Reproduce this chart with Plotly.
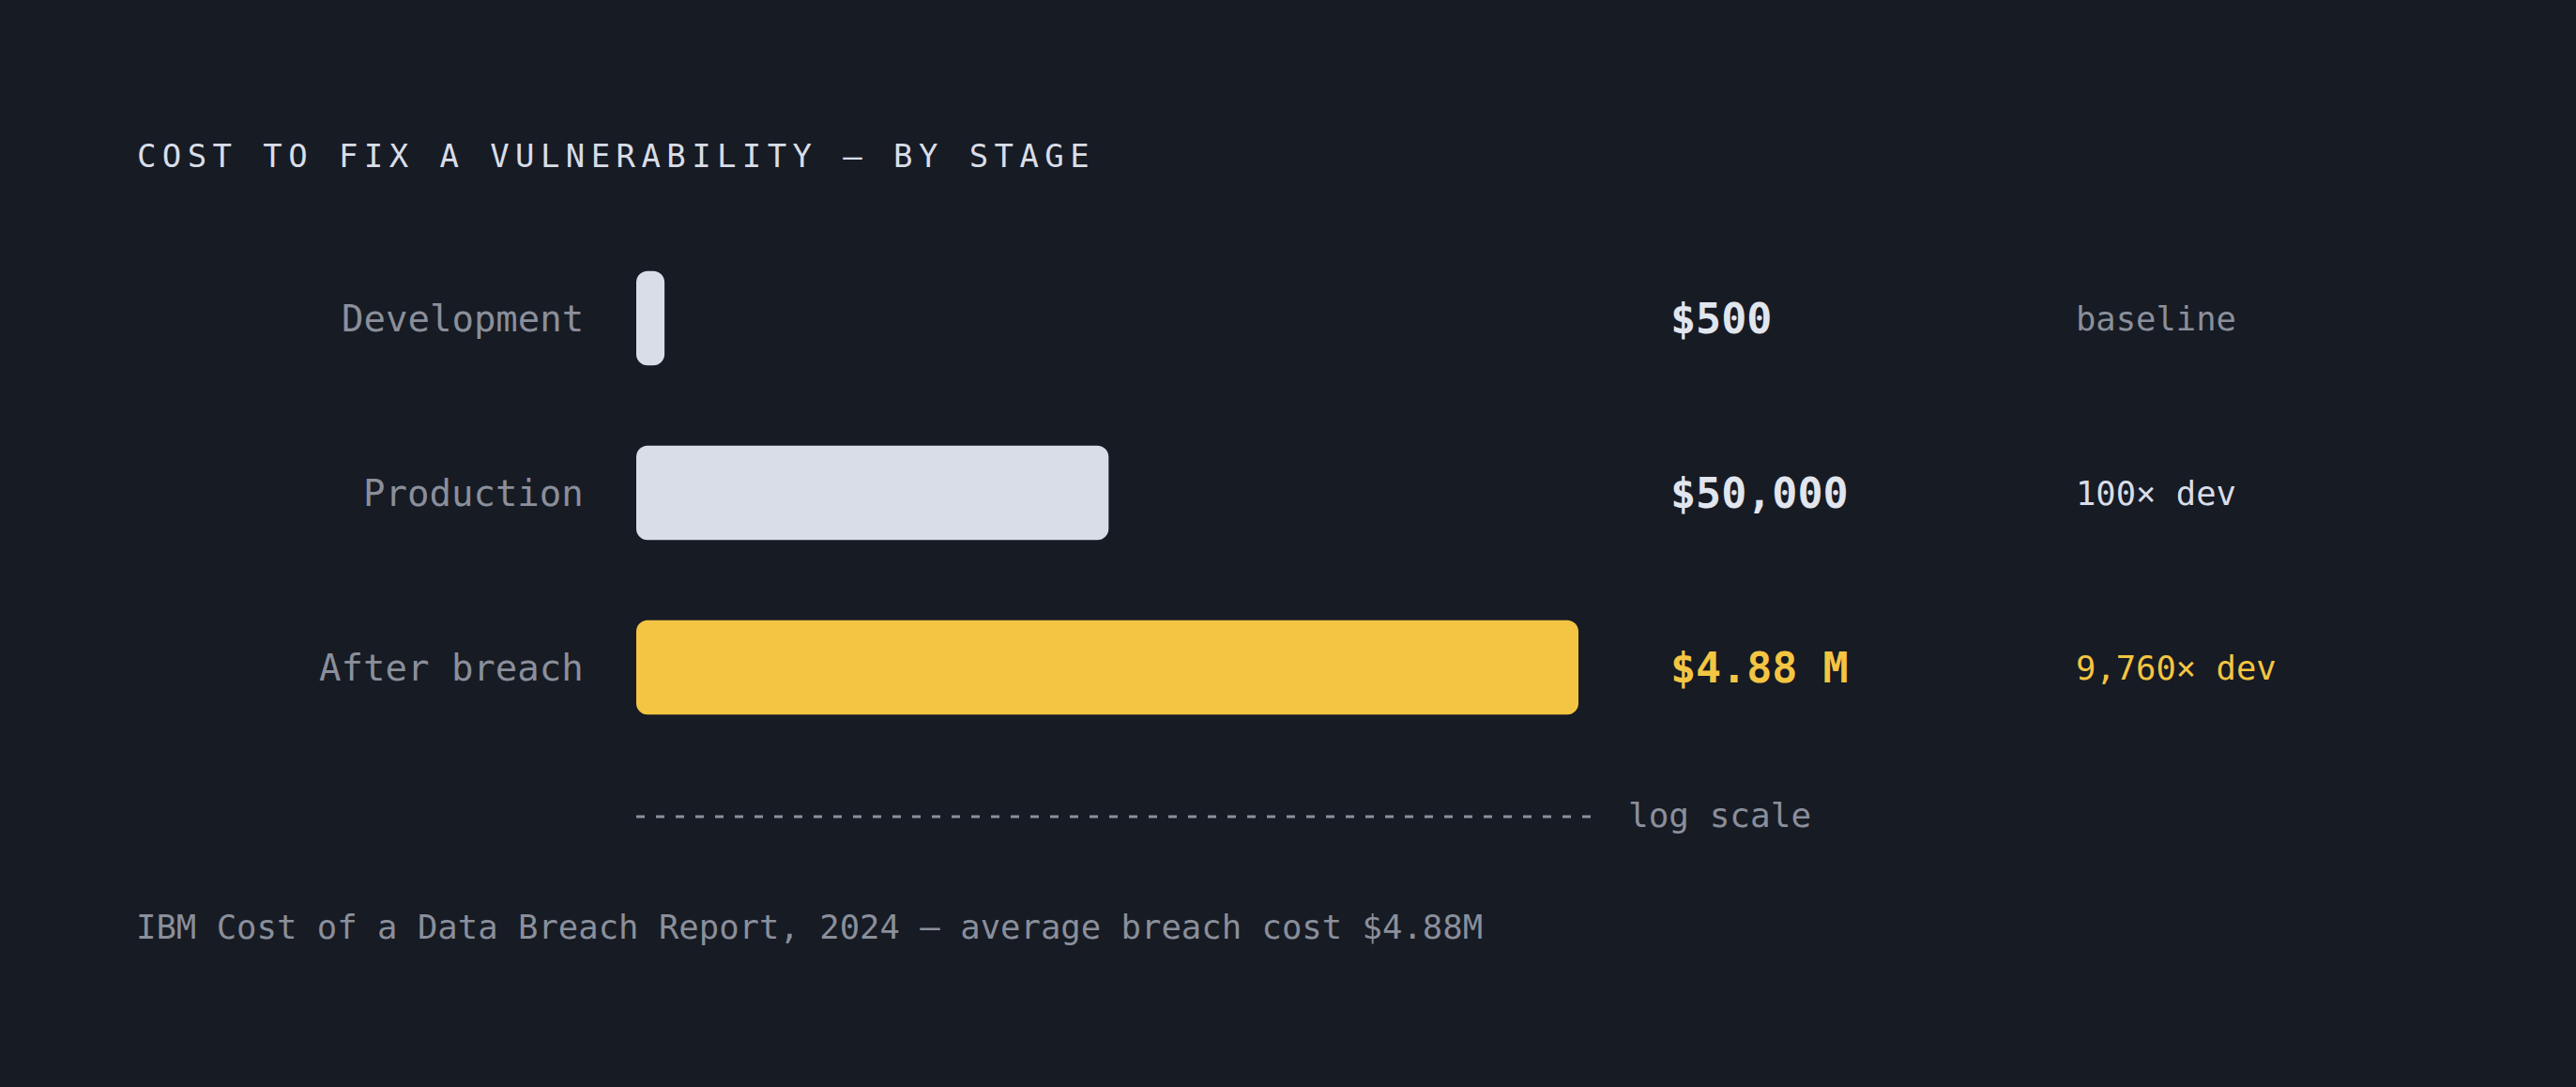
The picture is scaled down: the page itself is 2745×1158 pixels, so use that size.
import math
import plotly.graph_objects as go

# 数据
stages = ["Development", "Production", "After breach"]
costs = [500, 50000, 4880000]
cost_labels = ["$500", "$50,000", "$4.88 M"]
multiplier_labels = ["baseline", "100× dev", "9,760× dev"]
title_text = "COST TO FIX A VULNERABILITY — BY STAGE"
source_text = "IBM Cost of a Data Breach Report, 2024 — average breach cost $4.88M"

W, H = 2745, 1158
BG = "#171b24"
LIGHT = "#d8dde8"
YELLOW = "#f4c542"
MUTED = "#8a8f9b"
FONT = "DejaVu Sans Mono"

bar_colors = [LIGHT, LIGHT, YELLOW]
value_colors = ["#e1e5ee", "#e1e5ee", YELLOW]
mult_colors = [MUTED, LIGHT, YELLOW]


def px_x(p):
    return p / W


def px_y(p):
    return 1 - p / H


# 对数刻度，最短的条保留 3% 的最小宽度
lo, hi = min(costs), max(costs)
span = math.log10(hi) - math.log10(lo)
min_end = lo * 10 ** (0.03 * span)
bar_ends = [max(v, min_end) for v in costs]

fig = go.Figure()
fig.add_trace(go.Bar(
    y=stages,
    x=[e - lo for e in bar_ends],
    base=[lo] * len(stages),
    orientation="h",
    width=0.54,
    marker=dict(color=bar_colors, cornerradius=12, line=dict(width=0)),
    hoverinfo="skip",
    showlegend=False,
))

annotations = []
# 标题
annotations.append(dict(
    text=f'<span style="letter-spacing:6.4px">{title_text}</span>',
    xref="paper", yref="paper", x=px_x(144), y=px_y(166),
    xanchor="left", yanchor="middle", showarrow=False,
    font=dict(family=FONT, size=34, color=LIGHT),
))

for i, stage in enumerate(stages):
    annotations.append(dict(
        text=stage, xref="paper", yref="y", x=px_x(624), y=stage,
        xanchor="right", yanchor="middle", showarrow=False,
        font=dict(family=FONT, size=39, color=MUTED),
    ))
    annotations.append(dict(
        text=f"<b>{cost_labels[i]}</b>", xref="paper", yref="y", x=px_x(1778), y=stage,
        xanchor="left", yanchor="middle", showarrow=False,
        font=dict(family=FONT, size=45, color=value_colors[i]),
    ))
    annotations.append(dict(
        text=multiplier_labels[i], xref="paper", yref="y", x=px_x(2210), y=stage,
        xanchor="left", yanchor="middle", showarrow=False,
        font=dict(family=FONT, size=35.5, color=mult_colors[i]),
    ))

annotations.append(dict(
    text="log scale", xref="paper", yref="paper", x=px_x(1733), y=px_y(868),
    xanchor="left", yanchor="middle", showarrow=False,
    font=dict(family=FONT, size=36, color=MUTED),
))
annotations.append(dict(
    text=source_text, xref="paper", yref="paper", x=px_x(143), y=px_y(987),
    xanchor="left", yanchor="middle", showarrow=False,
    font=dict(family=FONT, size=35.6, color=MUTED),
))

fig.update_layout(
    width=W, height=H,
    margin=dict(l=0, r=0, t=0, b=0),
    paper_bgcolor=BG, plot_bgcolor=BG,
    annotations=annotations,
    shapes=[dict(
        type="line", xref="paper", yref="paper",
        x0=px_x(678), x1=px_x(1696), y0=px_y(870), y1=px_y(870),
        line=dict(color=MUTED, width=3, dash="9px,12px"),
    )],
    xaxis=dict(
        type="log", range=[math.log10(lo), math.log10(hi)],
        domain=[px_x(678), px_x(1682)], visible=False, fixedrange=True,
    ),
    yaxis=dict(
        range=[2.5, -0.5], domain=[px_y(804), px_y(246)],
        visible=False, fixedrange=True,
    ),
    hovermode=False,
)

fig.write_html("out.html", config={"displayModeBar": False},
               post_script="document.body.style.margin='0';")
